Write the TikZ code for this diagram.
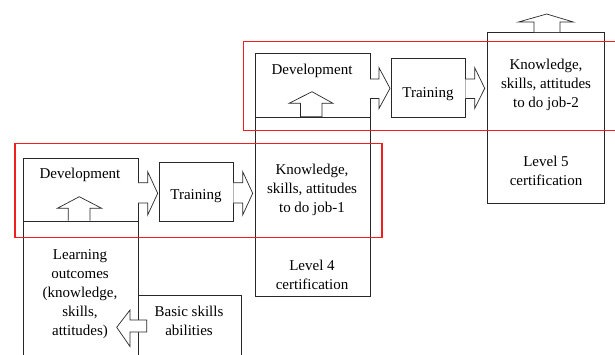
\documentclass[tikz,border=0pt]{standalone}
\usepackage{fontspec}
\setmainfont{Liberation Serif}
\newfontfamily\timesfont{Liberation Serif}
\definecolor{framered}{RGB}{240,30,30}
\definecolor{lineblk}{RGB}{40,40,40}
\begin{document}
\begin{tikzpicture}[x=1pt,y=-1pt,
  box/.style={draw=lineblk, line width=0.8pt, anchor=north west, inner sep=0pt},
  txt/.style={align=center, inner sep=0pt, font=\timesfont\fontsize{15}{19}\selectfont},
  barrow/.style={draw=lineblk, line width=0.7pt, fill=white, line join=miter},
  redbox/.style={draw=framered, line width=1.1pt}]
\useasboundingbox (0,0) rectangle (615,354);
% boxes
\node[box, minimum width=115pt, minimum height=63pt] (dev1) at (23,158) {};
\node[box, minimum width=115pt, minimum height=140pt] (lo) at (23,221) {};
\node[box, minimum width=74pt, minimum height=59pt] (tr1) at (159,162) {};
\node[box, minimum width=115pt, minimum height=64pt] (dev2) at (255,53) {};
\node[box, minimum width=115pt, minimum height=179pt] (k1) at (255,117) {};
\node[box, minimum width=74pt, minimum height=59pt] (tr2) at (391,58) {};
\node[box, minimum width=117pt, minimum height=171pt] (k2) at (487,32) {};
\node[box, minimum width=103pt, minimum height=70pt] (bs) at (138,295) {};
% texts
\node[txt] (t1) at (80,175) {Development};
\node[txt] (t2) at (196,196.5) {Training};
\node[txt] (t3) at (312,190) {Knowledge,\\skills, attitudes\\to do job-1};
\node[txt] (t4) at (312,274.5) {Level 4\\certification};
\node[txt] (t5) at (80,294) {Learning\\outcomes\\(knowledge,\\skills,\\attitudes)};
\node[txt] (t6) at (189,321) {Basic skills\\abilities};
\node[txt] (t7) at (312,70.5) {Development};
\node[txt] (t8) at (428,94.5) {Training};
\node[txt] (t9) at (546,85) {Knowledge,\\skills, attitudes\\to do job-2};
\node[txt] (t10) at (546,170.5) {Level 5\\certification};
% block arrows
\draw[barrow] (138,182.7) -- (147.7,182.7) -- (147.7,171.7) -- (157.7,193.3) -- (147.7,215) -- (147.7,203) -- (138,203);
\draw[barrow] (233.3,182.7) -- (242.7,182.7) -- (242.7,171.7) -- (252.7,193.3) -- (242.7,215) -- (242.7,203) -- (233.3,203);
\draw[barrow] (370,79) -- (379,79) -- (379,67.7) -- (390,88.3) -- (379,108.5) -- (379,98.5) -- (370,98.5);
\draw[barrow] (465.3,79) -- (474.7,79) -- (474.7,67.7) -- (484.7,88.3) -- (474.7,108.5) -- (474.7,98.5) -- (465.3,98.5);
\draw[barrow] (68.3,220.7) -- (68.3,208.3) -- (57.3,208.3) -- (79.3,196.7) -- (101.7,208.3) -- (90,208.3) -- (90,220.7);
\draw[barrow] (300.5,116.7) -- (300.5,103.3) -- (289,103.3) -- (312,91.7) -- (333,103.3) -- (322,103.3) -- (322,116.7) -- cycle;
\draw[barrow] (534,32) -- (534,22) -- (518.5,22) -- (546.7,14) -- (573.3,22) -- (560,22) -- (560,32);
\draw[barrow] (146.7,320) -- (130,320) -- (130,310) -- (116.7,327.3) -- (130,346.5) -- (130,332) -- (146.7,332) -- cycle;
% red frames
\draw[redbox] (15,143.5) -- (382,143.5) -- (382,237.5) -- (15,237.5) -- cycle;
\draw[redbox] (243.5,41.5) -- (630,41.5) -- (630,130.5) -- (243.5,130.5) -- cycle;
\end{tikzpicture}
\end{document}
